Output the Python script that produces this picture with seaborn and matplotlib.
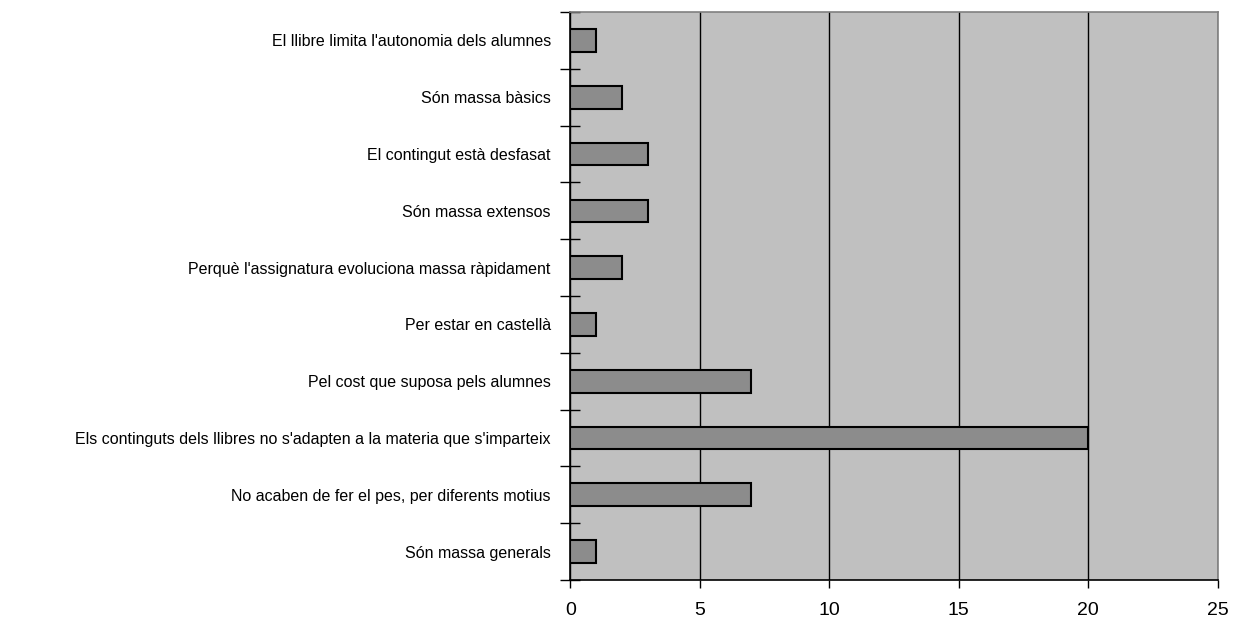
import matplotlib
matplotlib.use("Agg")
import matplotlib.pyplot as plt
from matplotlib.ticker import FixedLocator
import seaborn as sns
import pandas as pd
import numpy as np

motius = [
    "El llibre limita l'autonomia dels alumnes",
    "Són massa bàsics",
    "El contingut està desfasat",
    "Són massa extensos",
    "Perquè l'assignatura evoluciona massa ràpidament",
    "Per estar en castellà",
    "Pel cost que suposa pels alumnes",
    "Els continguts dels llibres no s'adapten a la materia que s'imparteix",
    "No acaben de fer el pes, per diferents motius",
    "Són massa generals",
]
respostes = [1, 2, 3, 3, 2, 1, 7, 20, 7, 1]
x_ticks = [0, 5, 10, 15, 20, 25]

df = pd.DataFrame({"motiu": motius, "respostes": respostes})

sns.set_theme(style="white")
plt.rcParams["font.family"] = ["Liberation Sans", "DejaVu Sans"]

fig = plt.figure(figsize=(12.45, 6.2), dpi=100)
ax = fig.add_axes([0.458, 0.0645, 0.52, 0.916])

sns.barplot(data=df, x="respostes", y="motiu", order=motius, orient="h",
            color="#8c8c8c", saturation=1, width=0.4,
            edgecolor="black", linewidth=1.5, ax=ax, zorder=3)

ax.set_facecolor("#c0c0c0")
ax.set_xlim(0, 25)
ax.set_ylim(len(motius) - 0.5, -0.5)
ax.set_xticks(x_ticks)
ax.set_xticklabels([str(t) for t in x_ticks], fontsize=14, color="black")
ax.xaxis.grid(True, color="black", linewidth=1)
ax.set_axisbelow(True)
ax.set_xlabel("")
ax.set_ylabel("")

ax.tick_params(axis="x", direction="out", length=6, width=1, color="black",
               bottom=True, pad=10)
ax.tick_params(axis="y", which="major", length=0, pad=14, labelsize=11.5,
               labelcolor="black")
ax.yaxis.set_minor_locator(FixedLocator(np.arange(-0.5, len(motius), 1.0)))
ax.tick_params(axis="y", which="minor", direction="inout", length=14,
               width=1, color="black", left=True)

for side in ("left", "bottom"):
    ax.spines[side].set_color("black")
    ax.spines[side].set_linewidth(1.2)
for side in ("top", "right"):
    ax.spines[side].set_color("#808080")
    ax.spines[side].set_linewidth(1.2)

fig.savefig("out.png", dpi=100)
